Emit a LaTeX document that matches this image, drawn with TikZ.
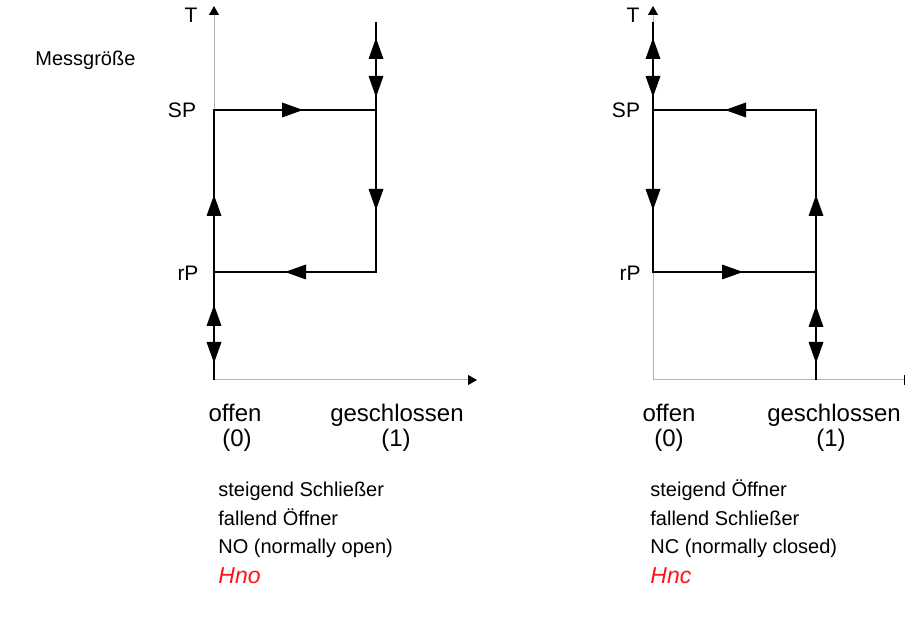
\documentclass[tikz,border=0pt]{standalone}
\usepackage{fontspec}
\setmainfont{Liberation Sans}
\usetikzlibrary{arrows.meta}
\definecolor{segred}{RGB}{255,20,20}
\begin{document}
\begin{tikzpicture}[x=0.5pt,y=-0.5pt, font=\fontsize{12}{14.5}\selectfont]
\useasboundingbox (0,0) rectangle (905,619);
\tikzset{
  pathline/.style={line width=1.1pt, black},
  axisline/.style={line width=0.5pt, gray!60},
  axtip/.style={-{Triangle[length=4.5pt,width=5pt,color=black]}},
  lbl/.style={font=\fontsize{10.5}{12}\selectfont, inner sep=0pt, anchor=base},
  clbl/.style={inner sep=0pt, anchor=base},
  txt/.style={inner sep=0pt, anchor=base west, font=\fontsize{10}{12}\selectfont},
  code/.style={inner sep=0pt, anchor=base west, text=segred, font=\fontsize{11.5}{14}\selectfont\itshape},
  tri/.pic={\fill[black] (0,0) -- (-21,-7.5) -- (-21,7.5) -- cycle;}
}
% ---------- left diagram ----------
\coordinate (L0) at (214,380);
\coordinate (LYend) at (214,6);
\coordinate (LXend) at (477,380);
\coordinate (LSP) at (214,110);
\coordinate (LRP) at (214,272);
\coordinate (LRtop) at (376,22);
\coordinate (LRSP) at (376,110);
\coordinate (LRRP) at (376,272);
\draw[axisline, axtip] (L0) -- (LYend);
\draw[axisline, axtip] (L0) -- (LXend);
\draw[pathline] (L0) -- (LSP) -- (LRSP);
\draw[pathline] (LRtop) -- (LRRP) -- (LRP);
\pic at (303,110) {tri};
\pic[rotate=90] at (376,38) {tri};
\pic[rotate=-90] at (376,97) {tri};
\pic[rotate=-90] at (376,210) {tri};
\pic[rotate=180] at (285,272) {tri};
\pic[rotate=90] at (214,195) {tri};
\pic[rotate=90] at (214,305) {tri};
\pic[rotate=-90] at (214,363) {tri};
\node[lbl] (LT) at (191,23) {T};
\node[lbl] (LSPl) at (182,118) {SP};
\node[lbl] (LRPl) at (188,281) {rP};
\node[clbl] (Loffen) at (235,422) {offen};
\node[clbl] (Lnull) at (237,447) {(0)};
\node[clbl] (Lgesch) at (397,422) {geschlossen};
\node[clbl] (Leins) at (396,447) {(1)};
\node[txt] (Lt1) at (218,497) {steigend Schließer};
\node[txt] (Lt2) at (218,526) {fallend Öffner};
\node[txt] (Lt3) at (218,554) {NO (normally open)};
\node[code] (Lt4) at (218,584) {Hno};
% ---------- right diagram ----------
\coordinate (R0) at (653,380);
\coordinate (RYend) at (653,6);
\coordinate (RXend) at (913,380);
\coordinate (Rtop) at (653,22);
\coordinate (RSP) at (653,110);
\coordinate (RRP) at (653,272);
\coordinate (RRSP) at (816,110);
\coordinate (RRRP) at (816,272);
\coordinate (RRbot) at (816,380);
\draw[axisline, axtip] (R0) -- (RYend);
\draw[axisline, axtip] (R0) -- (RXend);
\draw[pathline] (Rtop) -- (RRP) -- (RRRP);
\draw[pathline] (RRbot) -- (RRSP) -- (RSP);
\pic[rotate=90] at (653,38) {tri};
\pic[rotate=-90] at (653,97) {tri};
\pic[rotate=180] at (725,110) {tri};
\pic[rotate=-90] at (653,210) {tri};
\pic at (743,272) {tri};
\pic[rotate=90] at (816,195) {tri};
\pic[rotate=90] at (816,306) {tri};
\pic[rotate=-90] at (816,363) {tri};
\node[lbl] (RT) at (633,23) {T};
\node[lbl] (RSPl) at (626,118) {SP};
\node[lbl] (RRPl) at (630,281) {rP};
\node[clbl] (Roffen) at (669,422) {offen};
\node[clbl] (Rnull) at (669,447) {(0)};
\node[clbl] (Rgesch) at (834,422) {geschlossen};
\node[clbl] (Reins) at (831,447) {(1)};
\node[txt] (Rt1) at (650,497) {steigend Öffner};
\node[txt] (Rt2) at (650,526) {fallend Schließer};
\node[txt] (Rt3) at (650,554) {NC (normally closed)};
\node[code] (Rt4) at (650,584) {Hnc};
% ---------- side label ----------
\node[inner sep=0pt, anchor=base west, font=\fontsize{10}{12}\selectfont] (Mess) at (35,66) {Messgröße};
\end{tikzpicture}
\end{document}
